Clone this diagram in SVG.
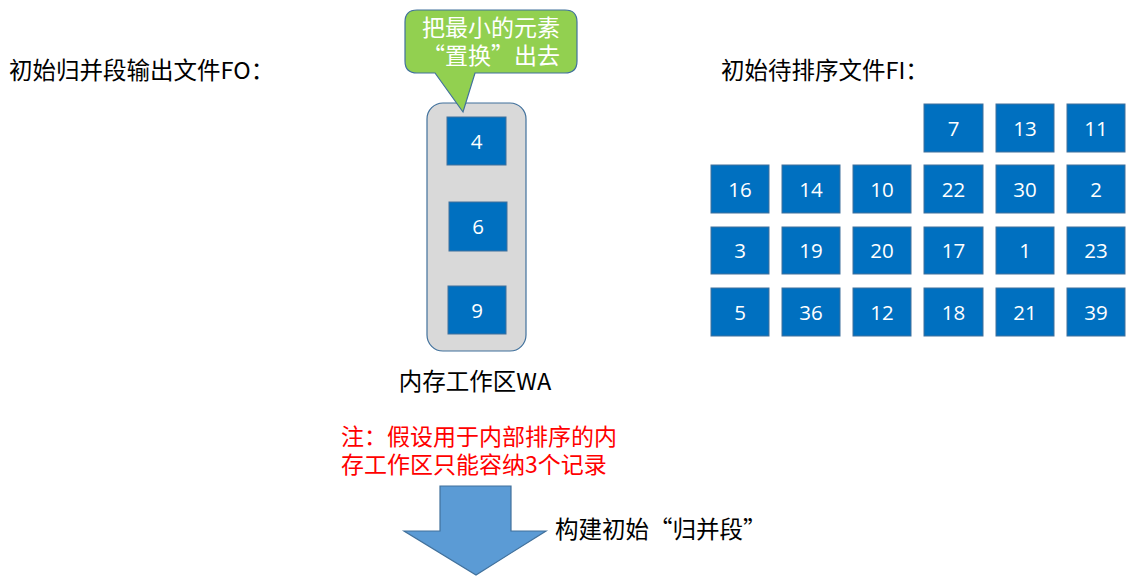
<svg xmlns="http://www.w3.org/2000/svg" width="1134" height="584" viewBox="0 0 1134 584">
<style>
.t{font-family:"Noto Sans CJK SC","Noto Sans",sans-serif;font-size:23.5px;fill:#000}
.m{font-size:23px}
.r{fill:#FF0000}
.w{fill:#FFFFFF}
.c{text-anchor:middle}
.box{fill:#0070C0;stroke:#41719C;stroke-width:1}
.n{font-family:"Open Sans","Liberation Sans",sans-serif;font-size:20.5px;fill:#FFFFFF;text-anchor:middle}
</style>
<rect width="1134" height="584" fill="#FFFFFF"/>
<g id="title-fo"><text class="t" x="9" y="79">初始归并段输出文件FO：</text></g>
<g id="title-fi"><text class="t" x="721" y="79">初始待排序文件FI：</text></g>
<g id="wa">
<rect x="427" y="103" width="99" height="248" rx="16" fill="#D9D9D9" stroke="#41719C" stroke-width="1.2"/>
<rect class="box" x="447" y="117" width="59" height="48"/><text class="n" x="476.5" y="148.5">4</text>
<rect class="box" x="449" y="202" width="58" height="49"/><text class="n" x="478" y="233.5">6</text>
<rect class="box" x="448" y="286" width="58" height="48"/><text class="n" x="477" y="317.5">9</text>
<text class="t c" x="475" y="390">内存工作区WA</text>
</g>
<g id="callout">
<path d="M417,10 H565 Q577,10 577,22 V61 Q577,73 565,73 H475 L463,112 L435,73 H417 Q405,73 405,61 V22 Q405,10 417,10 Z" fill="#92D050" stroke="#41719C" stroke-width="1.2"/>
<text class="t m w c" x="491" y="36">把最小的元素</text>
<text class="t m w c" x="491" y="64">“置换”出去</text>
</g>
<g id="fi">
<rect class="box" x="924" y="104" width="59" height="48"/><text class="n" x="953.5" y="135.5">7</text>
<rect class="box" x="996" y="104" width="58" height="48"/><text class="n" x="1025" y="135.5">13</text>
<rect class="box" x="1067" y="104" width="58" height="48"/><text class="n" x="1096" y="135.5">11</text>
<rect class="box" x="711" y="165" width="58" height="48"/><text class="n" x="740" y="196.5">16</text>
<rect class="box" x="782" y="165" width="58" height="48"/><text class="n" x="811" y="196.5">14</text>
<rect class="box" x="853" y="165" width="58" height="48"/><text class="n" x="882" y="196.5">10</text>
<rect class="box" x="924" y="165" width="59" height="48"/><text class="n" x="953.5" y="196.5">22</text>
<rect class="box" x="996" y="165" width="58" height="48"/><text class="n" x="1025" y="196.5">30</text>
<rect class="box" x="1067" y="165" width="58" height="48"/><text class="n" x="1096" y="196.5">2</text>
<rect class="box" x="711" y="227" width="58" height="47"/><text class="n" x="740" y="258">3</text>
<rect class="box" x="782" y="227" width="58" height="47"/><text class="n" x="811" y="258">19</text>
<rect class="box" x="853" y="227" width="58" height="47"/><text class="n" x="882" y="258">20</text>
<rect class="box" x="924" y="227" width="59" height="47"/><text class="n" x="953.5" y="258">17</text>
<rect class="box" x="996" y="227" width="58" height="47"/><text class="n" x="1025" y="258">1</text>
<rect class="box" x="1067" y="227" width="58" height="47"/><text class="n" x="1096" y="258">23</text>
<rect class="box" x="711" y="288" width="58" height="48"/><text class="n" x="740" y="319.5">5</text>
<rect class="box" x="782" y="288" width="58" height="48"/><text class="n" x="811" y="319.5">36</text>
<rect class="box" x="853" y="288" width="58" height="48"/><text class="n" x="882" y="319.5">12</text>
<rect class="box" x="924" y="288" width="59" height="48"/><text class="n" x="953.5" y="319.5">18</text>
<rect class="box" x="996" y="288" width="58" height="48"/><text class="n" x="1025" y="319.5">21</text>
<rect class="box" x="1067" y="288" width="58" height="48"/><text class="n" x="1096" y="319.5">39</text>
</g>
<g id="note">
<text class="t m r" x="341" y="445">注：假设用于内部排序的内</text>
<text class="t m r" x="341" y="473">存工作区只能容纳3个记录</text>
</g>
<g id="connectors">
<path d="M440,486 H511 V531 H546 L476,575 L404,531 H440 Z" fill="#5B9BD5" stroke="#41719C" stroke-width="1.2"/>
</g>
<g id="arrow-label"><text class="t" x="555" y="538">构建初始“归并段”</text></g>
</svg>
